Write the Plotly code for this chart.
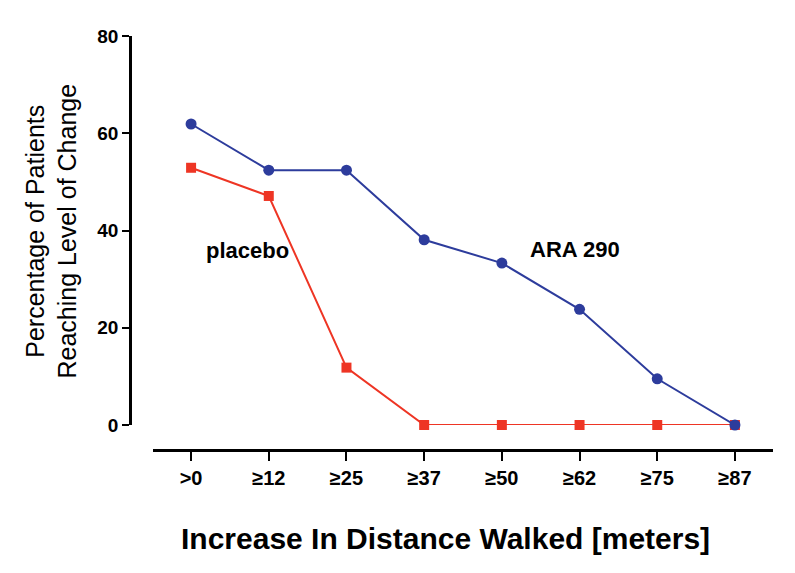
import plotly.graph_objects as go

categories = [">0", "≥12", "≥25", "≥37", "≥50", "≥62", "≥75", "≥87"]
ara290 = [61.9, 52.4, 52.4, 38.1, 33.3, 23.8, 9.5, 0]
placebo = [52.9, 47.1, 11.8, 0, 0, 0, 0, 0]
y_ticks = [0, 20, 40, 60, 80]

x_idx = list(range(len(categories)))
FONT = "Liberation Sans, Arial, sans-serif"
BLUE = "#2d3c9c"
RED = "#ee3524"

fig = go.Figure()
fig.add_trace(go.Scatter(x=x_idx, y=placebo, mode="lines+markers", name="placebo",
                         line=dict(color=RED, width=2), cliponaxis=False,
                         marker=dict(symbol="square", size=10, color=RED)))
fig.add_trace(go.Scatter(x=x_idx, y=ara290, mode="lines+markers", name="ARA 290",
                         line=dict(color=BLUE, width=2), cliponaxis=False,
                         marker=dict(symbol="circle", size=11, color=BLUE)))

fig.add_annotation(x=0.73, y=35.8, xref="x", yref="y", text="<b>placebo</b>",
                   showarrow=False, font=dict(family=FONT, size=22, color="black"))
fig.add_annotation(x=4.94, y=36, xref="x", yref="y", text="<b>ARA 290</b>",
                   showarrow=False, font=dict(family=FONT, size=22, color="black"))

# axis titles
fig.add_annotation(x=-0.122, y=0.529, xref="paper", yref="paper",
                   text="Percentage of Patients<br>Reaching Level of Change",
                   textangle=-90, showarrow=False, xanchor="center", yanchor="middle",
                   font=dict(family=FONT, size=25, color="black"))
fig.add_annotation(x=0.49, y=-0.2126, xref="paper", yref="paper",
                   text="<b>Increase In Distance Walked [meters]</b>",
                   showarrow=False, xanchor="center", yanchor="middle",
                   font=dict(family=FONT, size=30, color="black"))

fig.update_layout(
    width=795, height=573,
    margin=dict(l=122, r=30, t=28, b=131),
    plot_bgcolor="white", paper_bgcolor="white",
    showlegend=False,
    font=dict(family=FONT, color="black"),
    xaxis=dict(
        range=[-0.49, 7.49], domain=[0.0358, 1], tickmode="array", tickvals=x_idx,
        ticktext=categories, automargin=False,
        showgrid=False, zeroline=False, showline=True, linecolor="black", linewidth=3,
        ticks="outside", ticklen=9, tickwidth=2, tickcolor="black",
        tickfont=dict(family=FONT, size=20, color="black", weight="bold"),
        anchor="free", position=0,
    ),
    yaxis=dict(
        range=[0, 80], domain=[0.0604, 1], tickvals=y_ticks, automargin=False,
        showgrid=False, zeroline=False, showline=True, linecolor="black", linewidth=2.5,
        ticks="outside", ticklen=7, tickwidth=2, tickcolor="black",
        tickfont=dict(family=FONT, size=19, color="black", weight="bold"),
        anchor="free", position=0,
    ),
)

fig.write_html("out.html")
